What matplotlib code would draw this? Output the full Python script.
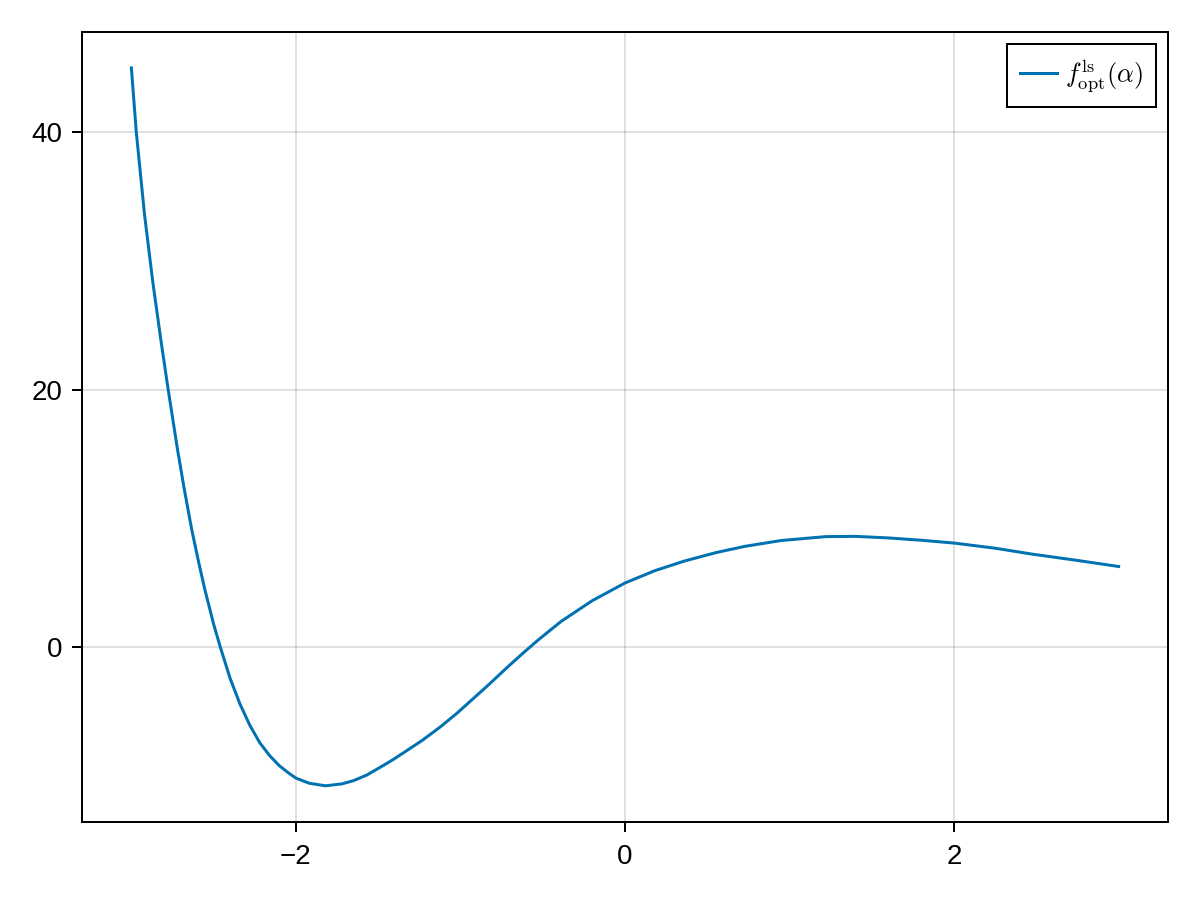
import matplotlib
matplotlib.use("Agg")
import matplotlib.pyplot as plt

# values
alpha = [-3.00, -2.97, -2.92, -2.87, -2.82, -2.776, -2.72, -2.68, -2.634, -2.59,
         -2.553, -2.50, -2.459, -2.40, -2.34, -2.28, -2.22, -2.16, -2.10, -2.04,
         -2.00, -1.92, -1.82, -1.72, -1.65, -1.57, -1.49, -1.41, -1.33, -1.23,
         -1.125, -1.02, -0.92, -0.82, -0.72, -0.62, -0.53, -0.39, -0.20, 0.00,
         0.18, 0.36, 0.55, 0.73, 0.95, 1.22, 1.40, 1.60, 1.80, 2.00,
         2.25, 2.47, 2.75, 3.00]
f_opt = [45.0, 40.0, 33.6, 28.4, 23.8, 20.0, 15.4, 12.4, 9.2, 6.55,
         4.47, 1.8, 0.0, -2.4, -4.4, -6.05, -7.4, -8.4, -9.2, -9.8,
         -10.15, -10.55, -10.75, -10.6, -10.35, -9.92, -9.33, -8.72, -8.05, -7.2,
         -6.2, -5.1, -3.95, -2.8, -1.6, -0.45, 0.55, 2.0, 3.62, 5.0,
         5.95, 6.7, 7.35, 7.85, 8.3, 8.6, 8.62, 8.5, 8.32, 8.1,
         7.7, 7.25, 6.75, 6.28]

xticks = [-2, 0, 2]
yticks = [0, 20, 40]

plt.rcParams['font.family'] = ['Liberation Sans', 'DejaVu Sans']
plt.rcParams['mathtext.fontset'] = 'cm'

fig = plt.figure(figsize=(12, 9), dpi=100)
ax = fig.add_axes([82/1200, 1-821.7/900, (1168-82)/1200, (821.7-32)/900])

ax.plot(alpha, f_opt, color='#0072B2', lw=2.16, solid_joinstyle='round',
        label=r'$f^{\mathrm{ls}}_{\mathrm{opt}}(\alpha)$')

xr = max(alpha) - min(alpha)
yr = max(f_opt) - min(f_opt)
ax.set_xlim(min(alpha) - 0.05*xr, max(alpha) + 0.05*xr)
ax.set_ylim(min(f_opt) - 0.05*yr, max(f_opt) + 0.05*yr)
ax.set_xticks(xticks)
ax.set_yticks(yticks)
ax.grid(True, color='black', alpha=0.12, lw=1.44)
ax.set_axisbelow(True)
for s in ax.spines.values():
    s.set_linewidth(1.44)
ax.tick_params(direction='out', length=7, width=1.44, labelsize=20)
ax.tick_params(axis='y', pad=7)
ax.tick_params(axis='x', pad=9)

leg = ax.legend(loc='upper right', bbox_to_anchor=(1156/1200, 1-44/900),
                bbox_transform=fig.transFigure, fancybox=False, framealpha=1,
                edgecolor='black', fontsize=19, handlelength=1.4,
                handletextpad=0.3, borderpad=0.5, borderaxespad=0)
leg.get_frame().set_linewidth(1.44)

fig.savefig('out.png', dpi=100)
